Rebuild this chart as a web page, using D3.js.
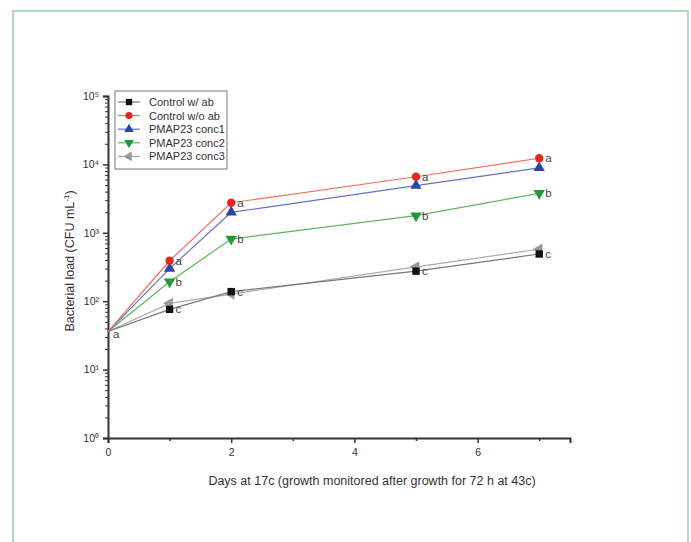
<!doctype html>
<html>
  <head>
    <meta charset="utf-8">
    <script src="https://cdn.jsdelivr.net/npm/d3@7"></script>
    <style>
      body { margin: 0; background: #fff; }
      svg { display: block; font-family: Arial, "Liberation Sans", sans-serif; }
    </style>
  </head>
  <body>
    <div id="chart"></div>
  <script>
    // data
    var days = [0, 1, 2, 5, 7];
    var controlWithAb = [36, 76, 138, 275, 490];
    var controlWithoutAb = [36, 390, 2750, 6600, 12300];
    var conc1 = [36, 300, 1990, 4900, 8900];
    var conc2 = [36, 193, 810, 1780, 3780];
    var conc3 = [36, 93, 127, 318, 575];
    var letters = ["a", "c", "c", "c", "c"];
    var lettersRed = ["", "a", "a", "a", "a"];
    var lettersGreen = ["", "b", "b", "b", "b"];
    var xTicks = [0, 2, 4, 6];
    var yTicks = [1, 10, 100, 1000, 10000, 100000];

    var series = [
      { name: "Control w/ ab", values: controlWithAb, line: "#777", fill: "#111", shape: d3.symbolSquare, rot: 0, tags: letters },
      { name: "Control w/o ab", values: controlWithoutAb, line: "#ee7060", fill: "#e8261e", shape: d3.symbolCircle, rot: 0, tags: lettersRed },
      { name: "PMAP23 conc1", values: conc1, line: "#6473c8", fill: "#2b44a8", shape: d3.symbolTriangle, rot: 0, tags: [] },
      { name: "PMAP23 conc2", values: conc2, line: "#5cb85c", fill: "#1e9a3a", shape: d3.symbolTriangle, rot: 180, tags: lettersGreen },
      { name: "PMAP23 conc3", values: conc3, line: "#aaa", fill: "#999", shape: d3.symbolTriangle, rot: -90, tags: [] }
    ];

    var width = 691, height = 542;
    var svg = d3.select("#chart").append("svg")
      .attr("width", width).attr("height", height);

    // frame
    svg.append("rect")
      .attr("x", 13).attr("y", 11)
      .attr("width", 675).attr("height", 560)
      .attr("fill", "none").attr("stroke", "#93d3a4").attr("stroke-width", 1.5);

    var x = d3.scaleLinear().domain([0, 7.5]).range([108, 570]);
    var y = d3.scaleLog().domain([1, 100000]).range([438, 96]);

    // x axis
    var xAxis = d3.axisBottom(x).tickValues(xTicks).tickSize(5).tickFormat(d3.format("d"));
    var gx = svg.append("g").attr("transform", "translate(0,438)").call(xAxis);
    gx.select(".domain").attr("stroke", "#333").attr("stroke-width", 2);
    gx.selectAll(".tick line").attr("stroke", "#333").attr("stroke-width", 1.5);
    gx.selectAll(".tick text").attr("font-size", 10.5).attr("fill", "#333").attr("dy", "0.95em");
    var gxm = svg.append("g").attr("transform", "translate(0,438)")
      .call(d3.axisBottom(x).tickValues([1, 3, 5, 7]).tickSize(3).tickFormat(""));
    gxm.select(".domain").remove();
    gxm.selectAll(".tick line").attr("stroke", "#333").attr("stroke-width", 1.5);

    // y axis
    var sup = { "0": "\u2070", "1": "\u00b9", "2": "\u00b2", "3": "\u00b3", "4": "\u2074", "5": "\u2075" };
    var yAxis = d3.axisLeft(y).tickValues(yTicks).tickSize(5)
      .tickFormat(function(d) { return "10" + sup[Math.round(Math.log10(d))]; });
    var gy = svg.append("g").attr("transform", "translate(108,0)").call(yAxis);
    gy.select(".domain").attr("stroke", "#333").attr("stroke-width", 2);
    gy.selectAll(".tick line").attr("stroke", "#333").attr("stroke-width", 1.5);
    gy.selectAll(".tick text").attr("font-size", 10.5).attr("fill", "#333").attr("dx", "-1");
    var minor = [];
    for (var e = 0; e < 5; e++) {
      for (var m = 2; m < 10; m++) minor.push(m * Math.pow(10, e));
    }
    var gym = svg.append("g").attr("transform", "translate(108,0)")
      .call(d3.axisLeft(y).tickValues(minor).tickSize(3).tickFormat(""));
    gym.select(".domain").remove();
    gym.selectAll(".tick line").attr("stroke", "#333").attr("stroke-width", 1);

    // axis titles
    svg.append("text")
      .attr("x", 372).attr("y", 485)
      .attr("text-anchor", "middle").attr("font-size", 12.5).attr("fill", "#333")
      .text("Days at 17c (growth monitored after growth for 72 h at 43c)");
    var yt = svg.append("text")
      .attr("transform", "translate(74,261) rotate(-90)")
      .attr("text-anchor", "middle").attr("font-size", 12.5).attr("fill", "#333");
    yt.append("tspan").text("Bacterial load (CFU mL");
    yt.append("tspan").attr("font-size", 8).attr("dy", -5).text("-1");
    yt.append("tspan").attr("dy", 5).text(")");

    var line = d3.line()
      .x(function(d, i) { return x(days[i]); })
      .y(function(d) { return y(d); });

    // lines (drawn in reverse so the red and black series sit on top)
    series.slice().reverse().forEach(function(s) {
      svg.append("path")
        .attr("d", line(s.values))
        .attr("fill", "none")
        .attr("stroke", s.line)
        .attr("stroke-width", 1.2);
    });

    function marker(g, s, size) {
      return g.append("path")
        .attr("d", d3.symbol().type(s.shape).size(size)())
        .attr("fill", s.fill);
    }

    series.slice().reverse().forEach(function(s) {
      s.values.forEach(function(v, i) {
        var g = svg.append("g")
          .attr("transform", "translate(" + x(days[i]) + "," + y(v) + ")");
        if (i > 0) marker(g, s, 55).attr("transform", "rotate(" + s.rot + ")");
        if (s.tags[i]) {
          svg.append("text")
            .attr("x", x(days[i]) + (i === 0 ? 5 : 6))
            .attr("y", y(v) + (i === 0 ? 6 : 4))
            .attr("font-size", 11.5).attr("fill", "#444")
            .text(s.tags[i]);
        }
      });
    });

    // legend
    var legend = svg.append("g").attr("transform", "translate(115,91)");
    legend.append("rect")
      .attr("width", 112).attr("height", 78)
      .attr("fill", "#fff").attr("stroke", "#777").attr("stroke-width", 1);
    series.forEach(function(s, i) {
      var row = legend.append("g").attr("transform", "translate(0," + (11 + i * 13.6) + ")");
      row.append("line")
        .attr("x1", 3).attr("x2", 25)
        .attr("stroke", s.line).attr("stroke-width", 1.2);
      marker(row.append("g").attr("transform", "translate(14,0)"), s, 40)
        .attr("transform", "rotate(" + s.rot + ")");
      row.append("text")
        .attr("x", 34).attr("y", 4)
        .attr("font-size", 11).attr("fill", "#333")
        .text(s.name);
    });
  </script>
  </body>
</html>
